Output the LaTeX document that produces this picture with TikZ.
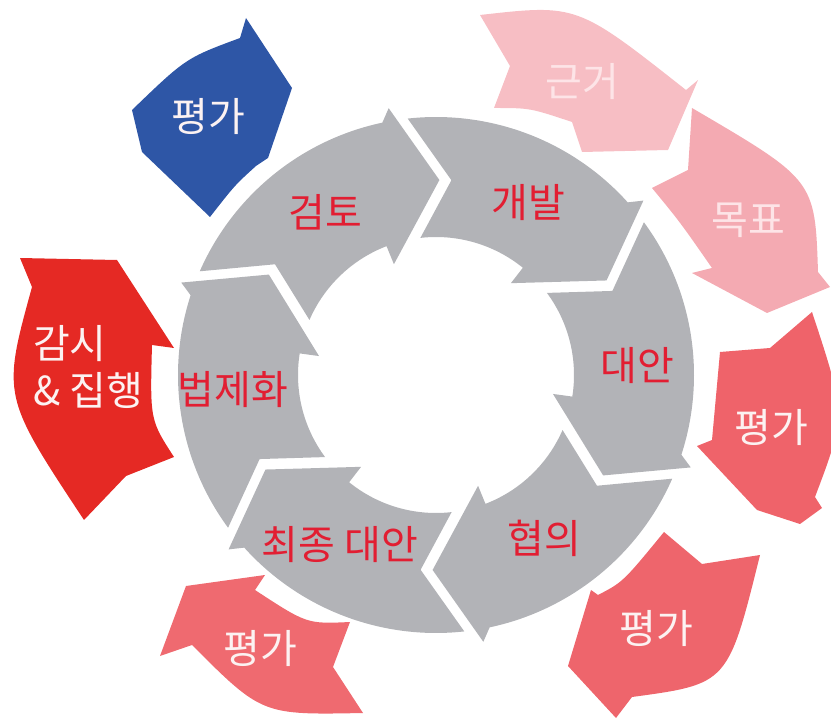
\documentclass[tikz,border=0pt]{standalone}
\usepackage{fontspec}
\setmainfont{Noto Sans CJK KR}
\definecolor{ringgray}{RGB}{178,179,183}
\definecolor{lblred}{RGB}{226,30,50}
\definecolor{arrblue}{RGB}{46,86,166}
\definecolor{pinkA}{RGB}{247,190,196}
\definecolor{pinkB}{RGB}{244,170,178}
\definecolor{coralA}{RGB}{239,99,106}
\definecolor{coralB}{RGB}{238,101,108}
\definecolor{coralC}{RGB}{239,106,112}
\definecolor{redD}{RGB}{229,41,36}
\definecolor{paletext}{RGB}{253,228,231}
\definecolor{whtext}{RGB}{252,242,242}
\newcommand\ringseg[1]{%
 \begin{scope}[shift={(436,349)},rotate=#1]
  \fill[ringgray] (7.3:258) arc[start angle=7.3,end angle=-47,radius=258]
   -- (-48.94:271) -- (-60:195) -- (-38.2:118.5) -- (-38:138)
   arc[start angle=-38,end angle=7.5,radius=138] -- (-3.52:195.4) -- cycle;
 \end{scope}}
\tikzset{
 ringlbl/.style={text=lblred, font=\fontsize{40}{48}\selectfont, inner sep=0pt},
 outlbl/.style={text=whtext, font=\fontsize{40}{48}\selectfont, inner sep=0pt},
 palelbl/.style={text=paletext, font=\fontsize{40}{48}\selectfont, inner sep=0pt}
}
\begin{document}
\begin{tikzpicture}[x=1pt,y=1pt]
\useasboundingbox (0,0) rectangle (831,724);
% ring
\ringseg{89}
\ringseg{29}
\ringseg{-31}
\ringseg{-91}
\ringseg{-151}
\ringseg{149}
\begin{scope}[yshift=724pt,yscale=-1]
% outer arrows
\fill[arrblue] (132,110) .. controls (186,58) .. (240,38) -- (246,18) -- (292,88) -- (268,158) -- (256,166) .. controls (235,185) .. (210,217) -- (142,152) -- cycle;
\fill[pinkA] (480,15) .. controls (577,4) .. (686,90) -- (698,80) -- (668,150) -- (582,152) -- (572,122) .. controls (530,108) .. (494,108) -- (510,66) -- cycle;
\fill[pinkB] (692,108) .. controls (815,180) .. (818,272) -- (830,287) -- (767,313) -- (692,273) -- (712,268) .. controls (680,222) .. (652,188) -- (688,170) -- cycle;
\fill[coralA] (812,312) .. controls (846,415) .. (815,497) -- (822,508) -- (800,524) -- (757,510) -- (697,446) -- (712,440) .. controls (716,396) .. (720,352) -- (770,348) -- cycle;
\fill[coralB] (760,555) .. controls (728,684) .. (632,697) -- (616,718) -- (568,666) -- (591,590) -- (598,595) .. controls (623,582) .. (664,532) -- (702,564) -- cycle;
\fill[coralC] (363,713) .. controls (262,715) .. (192,645) -- (160,656) -- (186,586) -- (265,575) -- (255,590) .. controls (307,624) .. (350,622) -- (333,667) -- cycle;
\fill[redD] (20,258) -- (117,260) -- (174,348) -- (152,345) .. controls (150,420) .. (174,457) -- (126,476) -- (84,520) .. controls (2,396) .. (32,287) -- cycle;
% ring labels
\node[ringlbl] (geomto) at (325,212) {검토};
\node[ringlbl] (gaebal) at (528,203) {개발};
\node[ringlbl] (daean) at (637,366) {대안};
\node[ringlbl] (hyeobui) at (544,538) {협의};
\node[ringlbl] (choejong) at (340,545) {최종 대안};
\node[ringlbl] (beopje) at (233,390) {법제화};
% outer labels
\node[outlbl] (pgBlue) at (208,117) {평가};
\node[palelbl] (geungeo) at (582,82) {근거};
\node[palelbl] (mokpyo) at (748,220) {목표};
\node[outlbl] (pgRight) at (771,428) {평가};
\node[outlbl] (pgBR) at (656,628) {평가};
\node[outlbl] (pgBL) at (260,648) {평가};
\node[outlbl, font=\fontsize{40}{47}\selectfont, align=left, anchor=west] (gamsi) at (33,367) {감시\\\& 집행};
\end{scope}
\end{tikzpicture}
\end{document}
